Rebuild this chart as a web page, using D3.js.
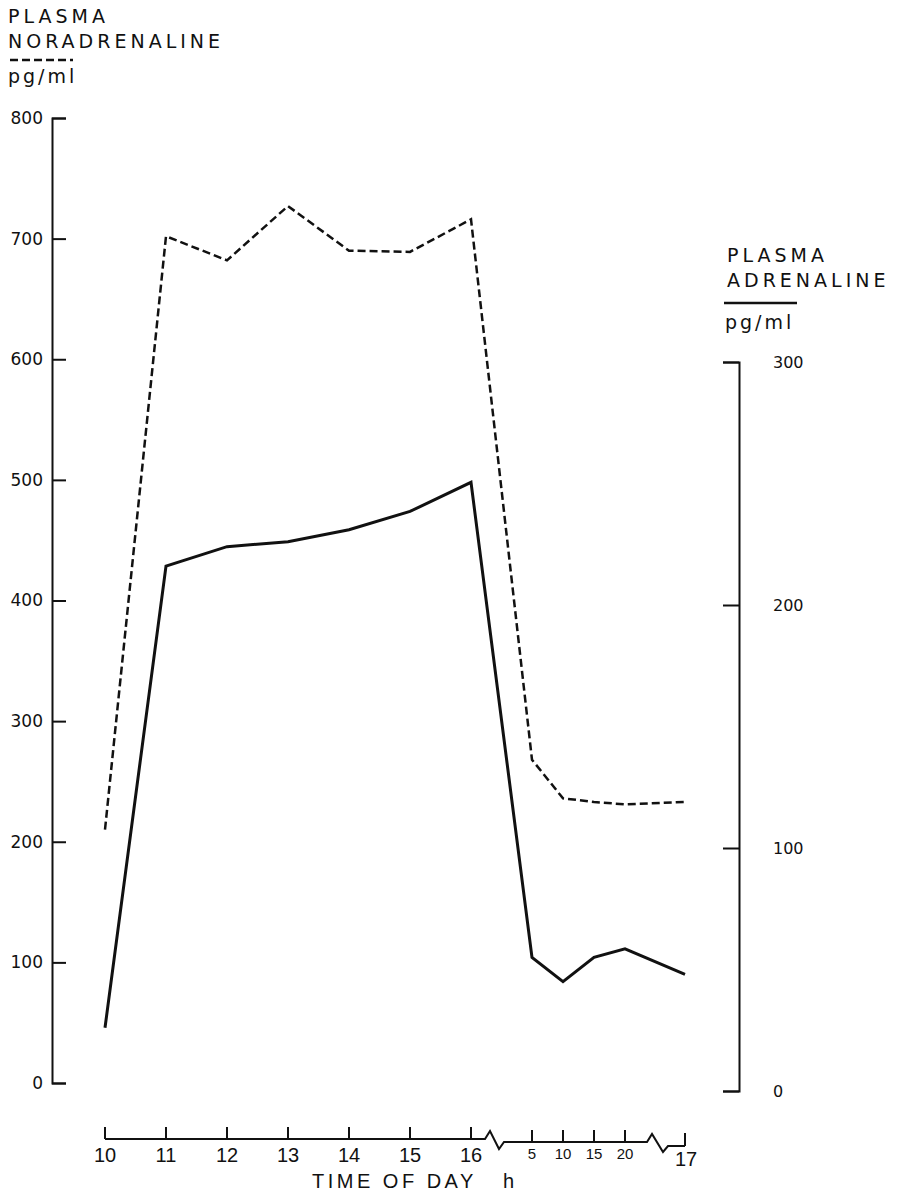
<!DOCTYPE html>
<html>
<head>
<meta charset="utf-8">
<script src="https://cdn.jsdelivr.net/npm/d3@7"></script>
<style>
  html, body { margin: 0; padding: 0; background: #fff; }
  svg { display: block; }
  .title { font-family: "DejaVu Sans", sans-serif; font-size: 19px; letter-spacing: 4px; fill: #111; }
  .unit { font-family: "DejaVu Sans", sans-serif; font-size: 19px; letter-spacing: 3px; fill: #111; }
  .xlab { font-family: "Liberation Sans", sans-serif; fill: #111; }
</style>
</head>
<body>
<svg id="chart" width="900" height="1196"></svg>
<script>
// Sampling times, as minutes after 10:00
const sampleTimes = [0, 60, 120, 180, 240, 300, 360, 365, 370, 375, 380, 420];
// Plasma noradrenaline, pg/ml (left axis, dashed)
const noradrenaline = [210, 702, 682, 727, 690, 689, 716, 268, 236, 233, 231, 233];
// Plasma adrenaline, pg/ml (right axis, solid)
const adrenaline = [26, 216, 224, 226, 231, 238.5, 250.5, 55, 45, 55, 58.5, 48];

// Axis tick labels
const hourTicks = [0, 60, 120, 180, 240, 300, 360];
const hourLabels = ["10", "11", "12", "13", "14", "15", "16"];
const minuteTicks = [365, 370, 375, 380];
const minuteLabels = ["5", "10", "15", "20"];
const endTicks = [420];
const endLabels = ["17"];
const leftTicks = [0, 100, 200, 300, 400, 500, 600, 700, 800];
const rightTicks = [0, 100, 200, 300];

const svg = d3.select("#chart");

// Broken time axis: the hours, then minutes after 16:00 on a wider scale, then 17:00
const x = d3.scaleLinear()
  .domain([0, 360, 365, 380, 420])
  .range([105, 471, 532, 625, 685]);
const yL = d3.scaleLinear().domain([0, 800]).range([1083, 118]);
const yR = d3.scaleLinear().domain([0, 300]).range([1091, 362]);

// Left axis (noradrenaline)
const gL = svg.append("g")
  .attr("transform", "translate(52,0)")
  .call(d3.axisLeft(yL).tickValues(leftTicks).tickSize(-14).tickPadding(9));
gL.selectAll("path, line").attr("stroke", "#111").attr("stroke-width", 2);
gL.selectAll("text")
  .attr("font-family", "DejaVu Sans, sans-serif")
  .attr("font-size", 17).attr("fill", "#111");

// Right axis (adrenaline)
const gR = svg.append("g")
  .attr("transform", "translate(739,0)")
  .call(d3.axisRight(yR).tickValues(rightTicks).tickSize(-16).tickPadding(34));
gR.selectAll("path, line").attr("stroke", "#111").attr("stroke-width", 2);
gR.selectAll("text")
  .attr("font-family", "DejaVu Sans, sans-serif")
  .attr("font-size", 16).attr("fill", "#111");

// Axis titles
const leftTitle = svg.append("g");
leftTitle.append("text").attr("class", "title").attr("x", 8).attr("y", 23).text("PLASMA");
leftTitle.append("text").attr("class", "title").attr("x", 8).attr("y", 48).text("NORADRENALINE");
leftTitle.append("line").attr("x1", 10).attr("x2", 73).attr("y1", 60).attr("y2", 60)
  .attr("stroke", "#111").attr("stroke-width", 2.5).attr("stroke-dasharray", "8,4");
leftTitle.append("text").attr("class", "unit").attr("x", 8).attr("y", 83).text("pg/ml");

const rightTitle = svg.append("g");
rightTitle.append("text").attr("class", "title").attr("x", 727).attr("y", 262).text("PLASMA");
rightTitle.append("text").attr("class", "title").attr("x", 727).attr("y", 287).text("ADRENALINE");
rightTitle.append("line").attr("x1", 724).attr("x2", 797).attr("y1", 303).attr("y2", 303)
  .attr("stroke", "#111").attr("stroke-width", 2.5);
rightTitle.append("text").attr("class", "unit").attr("x", 725).attr("y", 329).text("pg/ml");

// Time axis with two breaks
const axY = 1139, axY2 = 1142, axY3 = 1146;
const b1 = x(360) + 14, b2 = x(380) + 22;
const axisPath = d3.path();
axisPath.moveTo(x(0), axY);
axisPath.lineTo(b1, axY);
axisPath.lineTo(b1 + 5, axY - 8);
axisPath.lineTo(b1 + 14, axY + 10);
axisPath.lineTo(b1 + 19, axY2);
axisPath.lineTo(b2, axY2);
axisPath.lineTo(b2 + 5, axY2 - 8);
axisPath.lineTo(b2 + 16, axY2 + 10);
axisPath.lineTo(b2 + 21, axY3);
axisPath.lineTo(x(420), axY3);
svg.append("path").attr("d", axisPath.toString())
  .attr("fill", "none").attr("stroke", "#111").attr("stroke-width", 2);

const xg = svg.append("g");
xg.selectAll("line.hour").data(hourTicks).join("line").attr("class", "hour")
  .attr("x1", d => x(d)).attr("x2", d => x(d)).attr("y1", axY - 12).attr("y2", axY)
  .attr("stroke", "#111").attr("stroke-width", 2);
xg.selectAll("line.min").data(minuteTicks).join("line").attr("class", "min")
  .attr("x1", d => x(d)).attr("x2", d => x(d)).attr("y1", axY2 - 12).attr("y2", axY2)
  .attr("stroke", "#111").attr("stroke-width", 2);
xg.selectAll("line.end").data(endTicks).join("line").attr("class", "end")
  .attr("x1", d => x(d)).attr("x2", d => x(d)).attr("y1", axY3 - 13).attr("y2", axY3)
  .attr("stroke", "#111").attr("stroke-width", 2);

xg.selectAll("text.hour").data(hourTicks).join("text").attr("class", "xlab hour")
  .attr("x", d => x(d)).attr("y", 1162).attr("text-anchor", "middle")
  .attr("font-size", 20).text((d, i) => hourLabels[i]);
xg.selectAll("text.min").data(minuteTicks).join("text").attr("class", "xlab min")
  .attr("x", d => x(d)).attr("y", 1159).attr("text-anchor", "middle")
  .attr("font-size", 15).text((d, i) => minuteLabels[i]);
xg.selectAll("text.end").data(endTicks).join("text").attr("class", "xlab end")
  .attr("x", d => x(d) + 1).attr("y", 1166).attr("text-anchor", "middle")
  .attr("font-size", 20).text((d, i) => endLabels[i]);

svg.append("text").attr("class", "xlab").attr("x", 312).attr("y", 1188)
  .attr("font-size", 20).attr("letter-spacing", "3.5px").text("TIME OF DAY");
svg.append("text").attr("class", "xlab").attr("x", 503).attr("y", 1188)
  .attr("font-size", 20).text("h");

// Data lines
const noraLine = d3.line().x((d, i) => x(sampleTimes[i])).y(d => yL(d));
const adrLine = d3.line().x((d, i) => x(sampleTimes[i])).y(d => yR(d));

svg.append("path").datum(noradrenaline)
  .attr("d", noraLine)
  .attr("fill", "none").attr("stroke", "#111").attr("stroke-width", 2.5)
  .attr("stroke-dasharray", "8,4").attr("stroke-linejoin", "miter");

svg.append("path").datum(adrenaline)
  .attr("d", adrLine)
  .attr("fill", "none").attr("stroke", "#111").attr("stroke-width", 3)
  .attr("stroke-linejoin", "miter");
</script>
</body>
</html>
